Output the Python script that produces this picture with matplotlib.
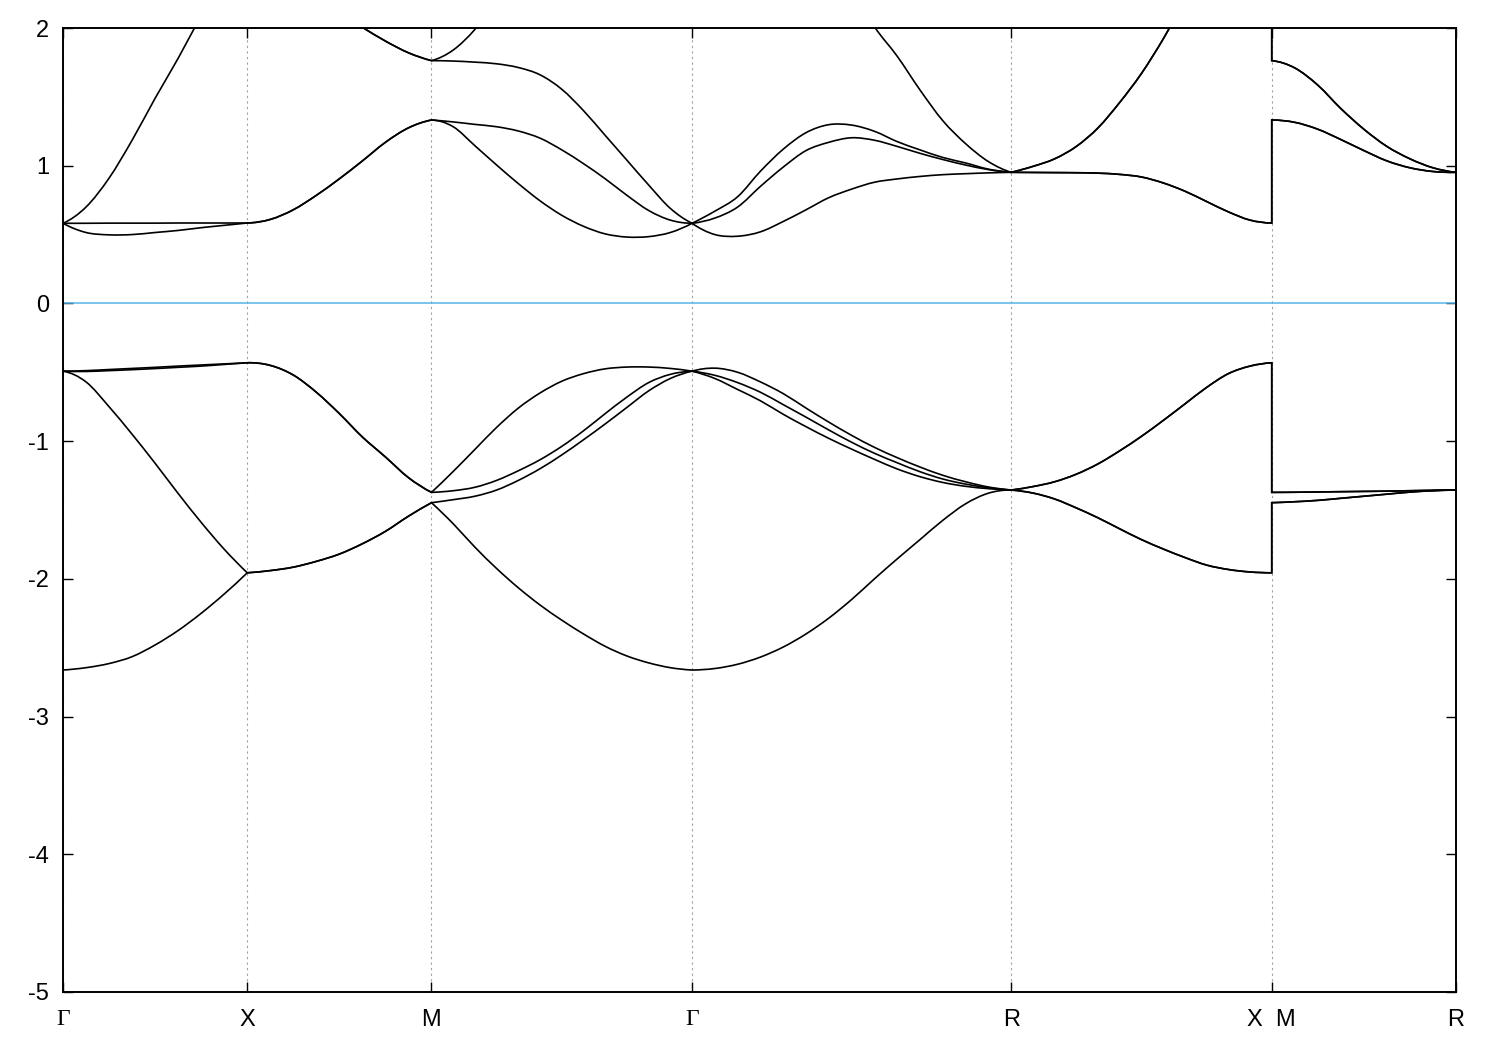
import numpy as np
import matplotlib.pyplot as plt
from matplotlib.path import Path
from matplotlib.patches import PathPatch

plt.rcParams['font.family'] = ['Liberation Sans', 'DejaVu Sans']
plt.rcParams['axes.unicode_minus'] = False

# high symmetry path of the simple cubic zone, segment lengths in 2pi/a
path_labels = ["Γ", "X", "M", "Γ", "R", "X  M", "R"]
seg_lengths = [0.5, 0.5, np.sqrt(2) / 2, np.sqrt(3) / 2, np.sqrt(2) / 2, 0.5]
seg_steps = [8, 8, 12, 14, 12, 8]
# R-X and M-R are joined with no gap (X|M break)
seg_break = [False, False, False, False, False, True]

# band energies (eV), read along G-X | X-M | M-G | G-R | R-X | M-R
band1 = [-2.662, -2.645, -2.615, -2.565, -2.48, -2.375, -2.25, -2.11, -1.956,
         -1.94, -1.915, -1.873, -1.82, -1.745, -1.655, -1.545, -1.447,
         -1.60, -1.77, -1.925, -2.065, -2.19, -2.30, -2.40, -2.49, -2.56, -2.61, -2.645, -2.662,
         -2.651, -2.62, -2.568, -2.495, -2.40, -2.285, -2.15, -2.00, -1.855, -1.715, -1.575, -1.455, -1.378, -1.355,
         -1.377, -1.42, -1.485, -1.557, -1.637, -1.715, -1.783, -1.845, -1.90, -1.932, -1.95, -1.956,
         -1.447, -1.44, -1.43, -1.415, -1.40, -1.385, -1.37, -1.36, -1.355]
band2 = [-0.492, -0.57, -0.75, -0.95, -1.161, -1.38, -1.59, -1.785, -1.956,
         -1.94, -1.915, -1.873, -1.82, -1.745, -1.655, -1.545, -1.447,
         -1.425, -1.40, -1.355, -1.285, -1.20, -1.10, -0.99, -0.875, -0.755, -0.635, -0.545, -0.492,
         -0.545, -0.625, -0.707, -0.805, -0.895, -0.98, -1.058, -1.132, -1.202, -1.258, -1.30, -1.328, -1.345, -1.355,
         -1.377, -1.42, -1.485, -1.557, -1.637, -1.715, -1.783, -1.845, -1.90, -1.932, -1.95, -1.956,
         -1.447, -1.44, -1.43, -1.415, -1.40, -1.385, -1.37, -1.36, -1.355]
band3 = [-0.492, -0.494, -0.488, -0.481, -0.473, -0.464, -0.455, -0.443, -0.431,
         -0.45, -0.52, -0.645, -0.80, -0.97, -1.115, -1.265, -1.372,
         -1.36, -1.335, -1.285, -1.215, -1.135, -1.038, -0.925, -0.80, -0.68, -0.575, -0.515, -0.492,
         -0.522, -0.575, -0.645, -0.735, -0.826, -0.919, -1.008, -1.088, -1.157, -1.222, -1.275, -1.312, -1.338, -1.355,
         -1.33, -1.295, -1.24, -1.165, -1.07, -0.965, -0.85, -0.73, -0.61, -0.51, -0.455, -0.431,
         -1.372, -1.371, -1.369, -1.367, -1.365, -1.363, -1.36, -1.357, -1.355]
band4 = [-0.492, -0.488, -0.480, -0.472, -0.464, -0.455, -0.447, -0.439, -0.431,
         -0.45, -0.52, -0.645, -0.80, -0.97, -1.115, -1.265, -1.372,
         -1.22, -1.06, -0.90, -0.76, -0.65, -0.565, -0.51, -0.475, -0.462, -0.462, -0.472, -0.492,
         -0.47, -0.50, -0.57, -0.655, -0.76, -0.862, -0.958, -1.045, -1.12, -1.188, -1.248, -1.295, -1.333, -1.355,
         -1.33, -1.295, -1.24, -1.165, -1.07, -0.965, -0.85, -0.73, -0.61, -0.51, -0.455, -0.431,
         -1.372, -1.371, -1.369, -1.367, -1.365, -1.363, -1.36, -1.357, -1.355]
band5 = [0.582, 0.515, 0.498, 0.50, 0.515, 0.53, 0.55, 0.567, 0.584,
         0.61, 0.68, 0.785, 0.905, 1.035, 1.17, 1.275, 1.332,
         1.283, 1.145, 1.005, 0.87, 0.745, 0.64, 0.56, 0.505, 0.482, 0.485, 0.515, 0.582,
         0.50, 0.488, 0.52, 0.595, 0.68, 0.768, 0.83, 0.88, 0.904, 0.922, 0.935, 0.942, 0.948, 0.952,
         0.951, 0.95, 0.949, 0.946, 0.937, 0.918, 0.875, 0.815, 0.74, 0.665, 0.605, 0.584,
         1.332, 1.315, 1.265, 1.19, 1.11, 1.035, 0.985, 0.958, 0.952]
band6 = [0.582, 0.582, 0.583, 0.583, 0.583, 0.584, 0.584, 0.584, 0.584,
         0.61, 0.68, 0.785, 0.905, 1.035, 1.17, 1.275, 1.332,
         1.318, 1.30, 1.283, 1.252, 1.20, 1.115, 1.015, 0.905, 0.785, 0.675, 0.605, 0.582,
         0.62, 0.70, 0.85, 0.99, 1.11, 1.17, 1.203, 1.185, 1.14, 1.09, 1.045, 1.005, 0.972, 0.952,
         0.951, 0.95, 0.949, 0.946, 0.937, 0.918, 0.875, 0.815, 0.74, 0.665, 0.605, 0.584,
         1.332, 1.315, 1.265, 1.19, 1.11, 1.035, 0.985, 0.958, 0.952]
band7 = [0.582, 0.70, 0.91, 1.185, 1.49, 1.78, 2.09, 2.38, 2.6,
         2.48, 2.35, 2.22, 2.11, 2.005, 1.905, 1.82, 1.763,
         1.76, 1.752, 1.74, 1.713, 1.66, 1.555, 1.40, 1.22, 1.04, 0.86, 0.69, 0.582,
         0.67, 0.775, 0.96, 1.12, 1.24, 1.298, 1.295, 1.25, 1.175, 1.115, 1.06, 1.02, 0.975, 0.952,
         0.995, 1.05, 1.14, 1.275, 1.46, 1.67, 1.92, 2.2, 2.4, 2.52, 2.58, 2.6,
         1.763, 1.71, 1.585, 1.415, 1.265, 1.14, 1.05, 0.985, 0.952]
band8 = [3.4, 3.38, 3.32, 3.22, 3.1, 2.96, 2.82, 2.7, 2.6,
         2.48, 2.35, 2.22, 2.11, 2.005, 1.905, 1.82, 1.763,
         1.84, 1.99, 2.2, 2.45, 2.7, 2.9, 3.05, 3.18, 3.28, 3.34, 3.38, 3.4,
         3.38, 3.3, 3.18, 3.0, 2.78, 2.55, 2.3, 2.01, 1.795, 1.55, 1.327, 1.16, 1.03, 0.952,
         0.995, 1.05, 1.14, 1.275, 1.46, 1.67, 1.92, 2.2, 2.4, 2.52, 2.58, 2.6,
         1.763, 1.71, 1.585, 1.415, 1.265, 1.14, 1.05, 0.985, 0.952]
bands = [band1, band2, band3, band4, band5, band6, band7, band8]

# build the k axis along the path, remembering where each segment starts/ends
tick_pos = [0.0]
k = [np.array([0.0])]
seg_idx = []
i0 = 0
for length, n, brk in zip(seg_lengths, seg_steps, seg_break):
    start = tick_pos[-1]
    pts = np.linspace(start, start + length, n + 1)
    if brk:
        i0 += 1
        k.append(pts)
    else:
        k.append(pts[1:])
    seg_idx.append((i0, i0 + n))
    i0 += n
    tick_pos.append(start + length)
k = np.concatenate(k)


def band_path(x, y):
    # smooth cubic curve through the read points, one piece per path segment
    verts, codes = [], []
    for a, b in seg_idx:
        px, py = x[a:b + 1], np.asarray(y[a:b + 1])
        n = len(px)
        t = np.empty(n)
        t[1:-1] = (py[2:] - py[:-2]) / 2
        t[0] = (-3 * py[0] + 4 * py[1] - py[2]) / 2
        t[-1] = (3 * py[-1] - 4 * py[-2] + py[-3]) / 2
        dx = px[1] - px[0]
        verts.append((px[0], py[0]))
        codes.append(Path.LINETO if codes else Path.MOVETO)
        for j in range(n - 1):
            verts += [(px[j] + dx / 3, py[j] + t[j] / 3),
                      (px[j + 1] - dx / 3, py[j + 1] - t[j + 1] / 3),
                      (px[j + 1], py[j + 1])]
            codes += [Path.CURVE4] * 3
    return Path(verts, codes)


fig = plt.figure(figsize=(15, 10.5), dpi=100)
ax = fig.add_axes([63 / 1500, 1 - 992 / 1050, 1393 / 1500, 964 / 1050])

ax.axhline(0, color='#56b4e9', lw=1.1, zorder=2)
for b in bands:
    ax.add_patch(PathPatch(band_path(k, b), fill=False, edgecolor='black',
                           lw=1.2, zorder=3))

ax.set_xlim(0, tick_pos[-1])
ax.set_ylim(-5, 2)
ax.set_xticks(tick_pos)
ax.set_xticklabels(path_labels)
ax.set_yticks(range(-5, 3))

for lbl in ax.get_xticklabels():
    if lbl.get_text() == "Γ":
        lbl.set_fontfamily('Liberation Serif')

ax.xaxis.grid(True, color='#a0a0a0', lw=0.8, linestyle=(0, (2, 3)))
ax.tick_params(direction='in', length=7, width=1.0, top=True, right=True,
               labelsize=17)
ax.tick_params(axis='x', pad=12)
ax.tick_params(axis='y', pad=10)
for sp in ax.spines.values():
    sp.set_linewidth(1.4)

fig.savefig('out.png', dpi=100)
